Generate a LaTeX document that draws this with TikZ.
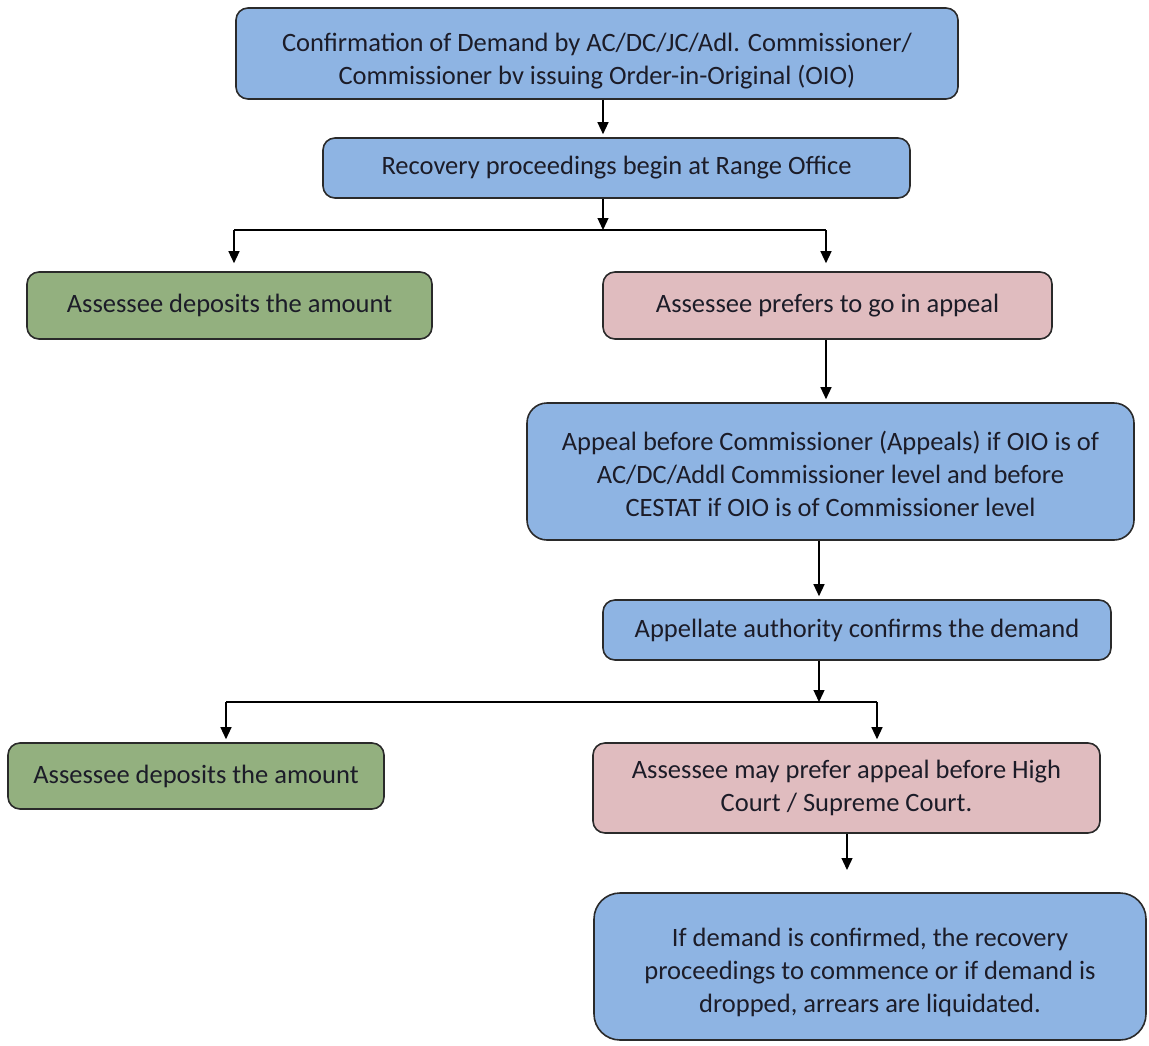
\documentclass[tikz,border=0pt]{standalone}
\usepackage{fontspec}
\setmainfont{Carlito}
\usetikzlibrary{arrows.meta,calc}
\definecolor{bluefill}{HTML}{8EB4E3}
\definecolor{greenfill}{HTML}{93B07F}
\definecolor{pinkfill}{HTML}{E0BCBF}
\definecolor{edgecol}{HTML}{2A2A2A}
\definecolor{txt}{HTML}{1C1C28}
\newcommand\lowerby[1]{\rule{0pt}{#1}}
\tikzset{
  box/.style={draw=edgecol, line width=1.6pt, rounded corners=12pt, align=center,
    text=txt, inner sep=0pt, font=\fontsize{26.5}{33}\selectfont},
  bluebox/.style={box, fill=bluefill},
  greenbox/.style={box, fill=greenfill},
  pinkbox/.style={box, fill=pinkfill},
  arr/.style={draw=black, line width=1.3pt, -{Triangle[width=11pt,length=12pt]}, shorten >=3pt},
  ln/.style={draw=black, line width=1.3pt}
}
\begin{document}
\begin{tikzpicture}[x=1pt,y=-1pt]
\useasboundingbox (0,0) rectangle (1149,1045);
\node[bluebox, minimum width=722pt, minimum height=91pt] (top) at (597,53.5)
  {\lowerby{34pt}Confirmation of Demand by AC/DC/JC/Adl. Commissioner/\\Commissioner bv issuing Order-in-Original (OIO)};
\node[bluebox, minimum width=587pt, minimum height=60pt] (rec) at (616.5,168)
  {Recovery proceedings begin at Range Office};
\node[greenbox, minimum width=405pt, minimum height=67pt] (g1) at (229.5,305.5)
  {Assessee deposits the amount};
\node[pinkbox, minimum width=449pt, minimum height=67pt] (p1) at (827.5,305.5)
  {Assessee prefers to go in appeal};
\node[bluebox, minimum width=607pt, minimum height=137pt, rounded corners=20pt] (ap) at (830.5,471.5)
  {\lowerby{24pt}Appeal before Commissioner (Appeals) if OIO is of\\AC/DC/Addl Commissioner level and before\\CESTAT if OIO is of Commissioner level};
\node[bluebox, minimum width=508pt, minimum height=60pt] (acf) at (857,630)
  {Appellate authority confirms the demand};
\node[greenbox, minimum width=376pt, minimum height=66pt] (g2) at (196,776)
  {Assessee deposits the amount};
\node[pinkbox, minimum width=507pt, minimum height=90pt] (p2) at (846.5,788)
  {Assessee may prefer appeal before High\\Court / Supreme Court.};
\node[bluebox, minimum width=552pt, minimum height=147pt, rounded corners=26pt] (fin) at (870,966.5)
  {\lowerby{30pt}If demand is confirmed, the recovery\\proceedings to commence or if demand is\\dropped, arrears are liquidated.};

% connectors
\coordinate (c1) at (603,99);
\draw[arr] (c1 |- top.south) -- (c1 |- rec.north);
\coordinate (j1) at (603,230);
\coordinate (jl) at (234,230);
\coordinate (jr) at (826,230);
\draw[arr, shorten >=0pt] (j1 |- rec.south) -- (j1);
\draw[ln] (jl) -- (jr);
\draw[arr, shorten >=8pt] (jl) -- (jl |- g1.north);
\draw[arr, shorten >=8pt] (jr) -- (jr |- p1.north);
\draw[arr] (jr |- p1.south) -- (jr |- ap.north);
\coordinate (c2) at (819,540);
\draw[arr] (c2 |- ap.south) -- (c2 |- acf.north);
\coordinate (j2) at (819,702);
\coordinate (kl) at (226,702);
\coordinate (kr) at (877,702);
\draw[arr, shorten >=0pt] (j2 |- acf.south) -- (j2);
\draw[ln] (kl) -- (kr);
\draw[arr] (kl) -- (kl |- g2.north);
\draw[arr] (kr) -- (kr |- p2.north);
\coordinate (e3) at (847,870);
\draw[arr, shorten >=0pt] (e3 |- p2.south) -- (e3);
\end{tikzpicture}
\end{document}
